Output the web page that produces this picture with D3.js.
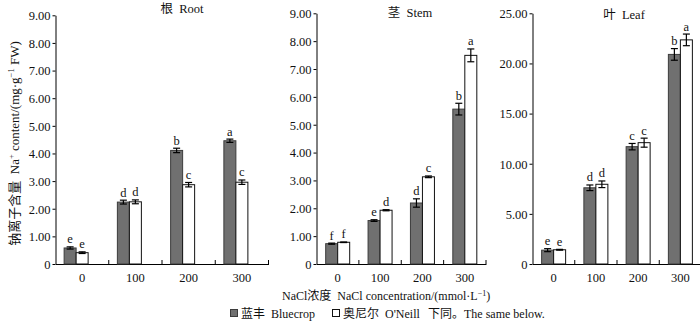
<!DOCTYPE html>
<html>
<head>
<meta charset="utf-8">
<script src="https://cdn.jsdelivr.net/npm/d3@7"></script>
<style>
  body { margin: 0; background: #fff; }
  text { font-family: "Liberation Serif", "Noto Sans CJK SC", serif; fill: #111; }
</style>
</head>
<body>
<div id="chart"></div>
<script>
// categories
const concentrations = ["0", "100", "200", "300"];
const cultivars = ["Bluecrop", "ONeill"];

// root
const rootBluecrop = [0.58, 2.24, 4.11, 4.46];
const rootOneill = [0.41, 2.25, 2.87, 2.96];
const rootBluecropErr = [0.04, 0.07, 0.08, 0.06];
const rootOneillErr = [0.03, 0.07, 0.08, 0.08];
const rootBluecropSig = ["e", "d", "b", "a"];
const rootOneillSig = ["e", "d", "c", "c"];

// stem
const stemBluecrop = [0.73, 1.56, 2.19, 5.56];
const stemOneill = [0.78, 1.93, 3.13, 7.49];
const stemBluecropErr = [0.02, 0.03, 0.15, 0.21];
const stemOneillErr = [0.01, 0.02, 0.03, 0.23];
const stemBluecropSig = ["f", "e", "d", "b"];
const stemOneillSig = ["f", "d", "c", "a"];

// leaf
const leafBluecrop = [1.38, 7.6, 11.7, 20.9];
const leafOneill = [1.42, 7.95, 12.1, 22.35];
const leafBluecropErr = [0.15, 0.28, 0.32, 0.58];
const leafOneillErr = [0.04, 0.33, 0.45, 0.58];
const leafBluecropSig = ["e", "d", "c", "b"];
const leafOneillSig = ["e", "d", "c", "a"];

// tick labels
const ticksNine = [0, 1, 2, 3, 4, 5, 6, 7, 8, 9];
const ticksLeaf = [0, 5, 10, 15, 20, 25];

const width = 700, height = 327;
const bottom = 264;
const barW = 12;
const darkFill = "#707070";

const svg = d3.select("#chart")
  .append("svg")
  .attr("width", width)
  .attr("height", height);

const panels = [
  { title: "根  Root", titleX: 182, titleY: 12.5, left: 55.5, right: 268.5, top: 15.3, max: 9, ticks: ticksNine, shift: -6,
    values: [rootBluecrop, rootOneill], errs: [rootBluecropErr, rootOneillErr], sigs: [rootBluecropSig, rootOneillSig] },
  { title: "茎  Stem", titleX: 410, titleY: 17, left: 316.5, right: 486, top: 13.3, max: 9, ticks: ticksNine, shift: 0,
    values: [stemBluecrop, stemOneill], errs: [stemBluecropErr, stemOneillErr], sigs: [stemBluecropSig, stemOneillSig] },
  { title: "叶  Leaf", titleX: 624, titleY: 19, left: 532.5, right: 701.5, top: 13.3, max: 25, ticks: ticksLeaf, shift: 0,
    values: [leafBluecrop, leafOneill], errs: [leafBluecropErr, leafOneillErr], sigs: [leafBluecropSig, leafOneillSig] }
];

const fmt = d3.format(".2f");

panels.forEach(function (p) {
  const g = svg.append("g");

  const x = d3.scaleBand().domain(concentrations).range([p.left, p.right]);
  const xs = d3.scaleBand().domain(cultivars).range([0, barW * 2]);
  const y = d3.scaleLinear().domain([0, p.max]).range([bottom, p.top]);

  const barX = function (c, k) {
    return x(c) + (x.bandwidth() - barW * 2) / 2 + p.shift + xs(cultivars[k]);
  };

  // Y axis
  const yAxis = g.append("g")
    .attr("transform", `translate(${p.left}, 0)`)
    .call(d3.axisLeft(y).tickValues(p.ticks).tickSize(3).tickSizeOuter(0)
      .tickFormat(function (d) { return d === 0 ? "0" : fmt(d); }));
  yAxis.selectAll("text").attr("font-size", "12.5px").attr("x", -5).attr("dy", "0.35em");

  // X axis (labels only, boundary ticks pointing up)
  const xAxis = g.append("g")
    .attr("transform", `translate(0, ${bottom})`)
    .call(d3.axisBottom(x).tickSize(0).tickSizeOuter(0).tickPadding(9));
  xAxis.selectAll("text").attr("font-size", "12.5px");

  g.selectAll(".bound")
    .data(concentrations)
    .join("line")
    .attr("x1", function (d) { return x(d) + x.bandwidth(); })
    .attr("x2", function (d) { return x(d) + x.bandwidth(); })
    .attr("y1", bottom)
    .attr("y2", bottom - 4)
    .attr("stroke", "#000");

  g.selectAll(".domain").attr("stroke", "#000");

  // Bars, error bars, letters
  p.values.forEach(function (vals, k) {
    const errs = p.errs[k];
    const sigs = p.sigs[k];

    g.selectAll(".bar" + k)
      .data(concentrations)
      .join("rect")
      .attr("x", function (c) { return barX(c, k); })
      .attr("y", function (c, i) { return y(vals[i]); })
      .attr("width", barW)
      .attr("height", function (c, i) { return bottom - y(vals[i]); })
      .attr("fill", k === 0 ? darkFill : "#fff")
      .attr("stroke", k === 0 ? "#3c3c3c" : "#111")
      .attr("stroke-width", 1);

    const eb = g.selectAll(".err" + k)
      .data(concentrations)
      .join("g")
      .attr("stroke", "#000")
      .attr("stroke-width", 1.2);
    eb.append("line")
      .attr("x1", function (c) { return barX(c, k) + barW / 2; })
      .attr("x2", function (c) { return barX(c, k) + barW / 2; })
      .attr("y1", function (c, i) { return y(vals[i] - errs[i]); })
      .attr("y2", function (c, i) { return y(vals[i] + errs[i]); });
    [1, -1].forEach(function (s) {
      eb.append("line")
        .attr("x1", function (c) { return barX(c, k) + barW / 2 - 3.5; })
        .attr("x2", function (c) { return barX(c, k) + barW / 2 + 3.5; })
        .attr("y1", function (c, i) { return y(vals[i] + s * errs[i]); })
        .attr("y2", function (c, i) { return y(vals[i] + s * errs[i]); });
    });

    g.selectAll(".sig" + k)
      .data(concentrations)
      .join("text")
      .attr("x", function (c) { return barX(c, k) + barW / 2; })
      .attr("y", function (c, i) { return y(vals[i] + errs[i]) - 3.5; })
      .attr("text-anchor", "middle")
      .attr("font-size", "12.5px")
      .text(function (c, i) { return sigs[i]; });
  });

  // Panel title
  svg.append("text")
    .attr("x", p.titleX)
    .attr("y", p.titleY)
    .attr("text-anchor", "middle")
    .attr("font-size", "12.5px")
    .style("white-space", "pre")
    .text(p.title);
});

// Y axis title
const yTitle = svg.append("text")
  .attr("transform", "translate(18.5, 143.5) rotate(-90)")
  .attr("text-anchor", "middle")
  .attr("font-size", "13px")
  .style("white-space", "pre");
yTitle.append("tspan").text("钠离子含量  Na");
yTitle.append("tspan").attr("dy", -4.5).attr("font-size", "8.5px").text("+");
yTitle.append("tspan").attr("dy", 4.5).text(" content/(mg·g");
yTitle.append("tspan").attr("dy", -4.5).attr("font-size", "8.5px").text("−1");
yTitle.append("tspan").attr("dy", 4.5).text(" FW)");

// X axis title
const xTitle = svg.append("text")
  .attr("x", 282)
  .attr("y", 300)
  .attr("font-size", "12px")
  .style("white-space", "pre");
xTitle.append("tspan").text("NaCl浓度  NaCl concentration/(mmol·L");
xTitle.append("tspan").attr("dy", -4).attr("font-size", "8px").text("−1");
xTitle.append("tspan").attr("dy", 4).text(")");

// Legend
const legend = svg.append("g").attr("font-size", "12px");
legend.append("rect").attr("x", 230.5).attr("y", 309.5).attr("width", 7).attr("height", 7)
  .attr("fill", darkFill).attr("stroke", "#3c3c3c");
legend.append("text").attr("x", 241).attr("y", 317.5).style("white-space", "pre").text("蓝丰  Bluecrop");
legend.append("rect").attr("x", 332.5).attr("y", 309.5).attr("width", 7).attr("height", 7)
  .attr("fill", "#fff").attr("stroke", "#111");
legend.append("text").attr("x", 343).attr("y", 317.5).style("white-space", "pre").text("奥尼尔  O'Neill");
legend.append("text").attr("x", 428).attr("y", 317.5).style("white-space", "pre").text("下同。The same below.");
</script>
</body>
</html>
